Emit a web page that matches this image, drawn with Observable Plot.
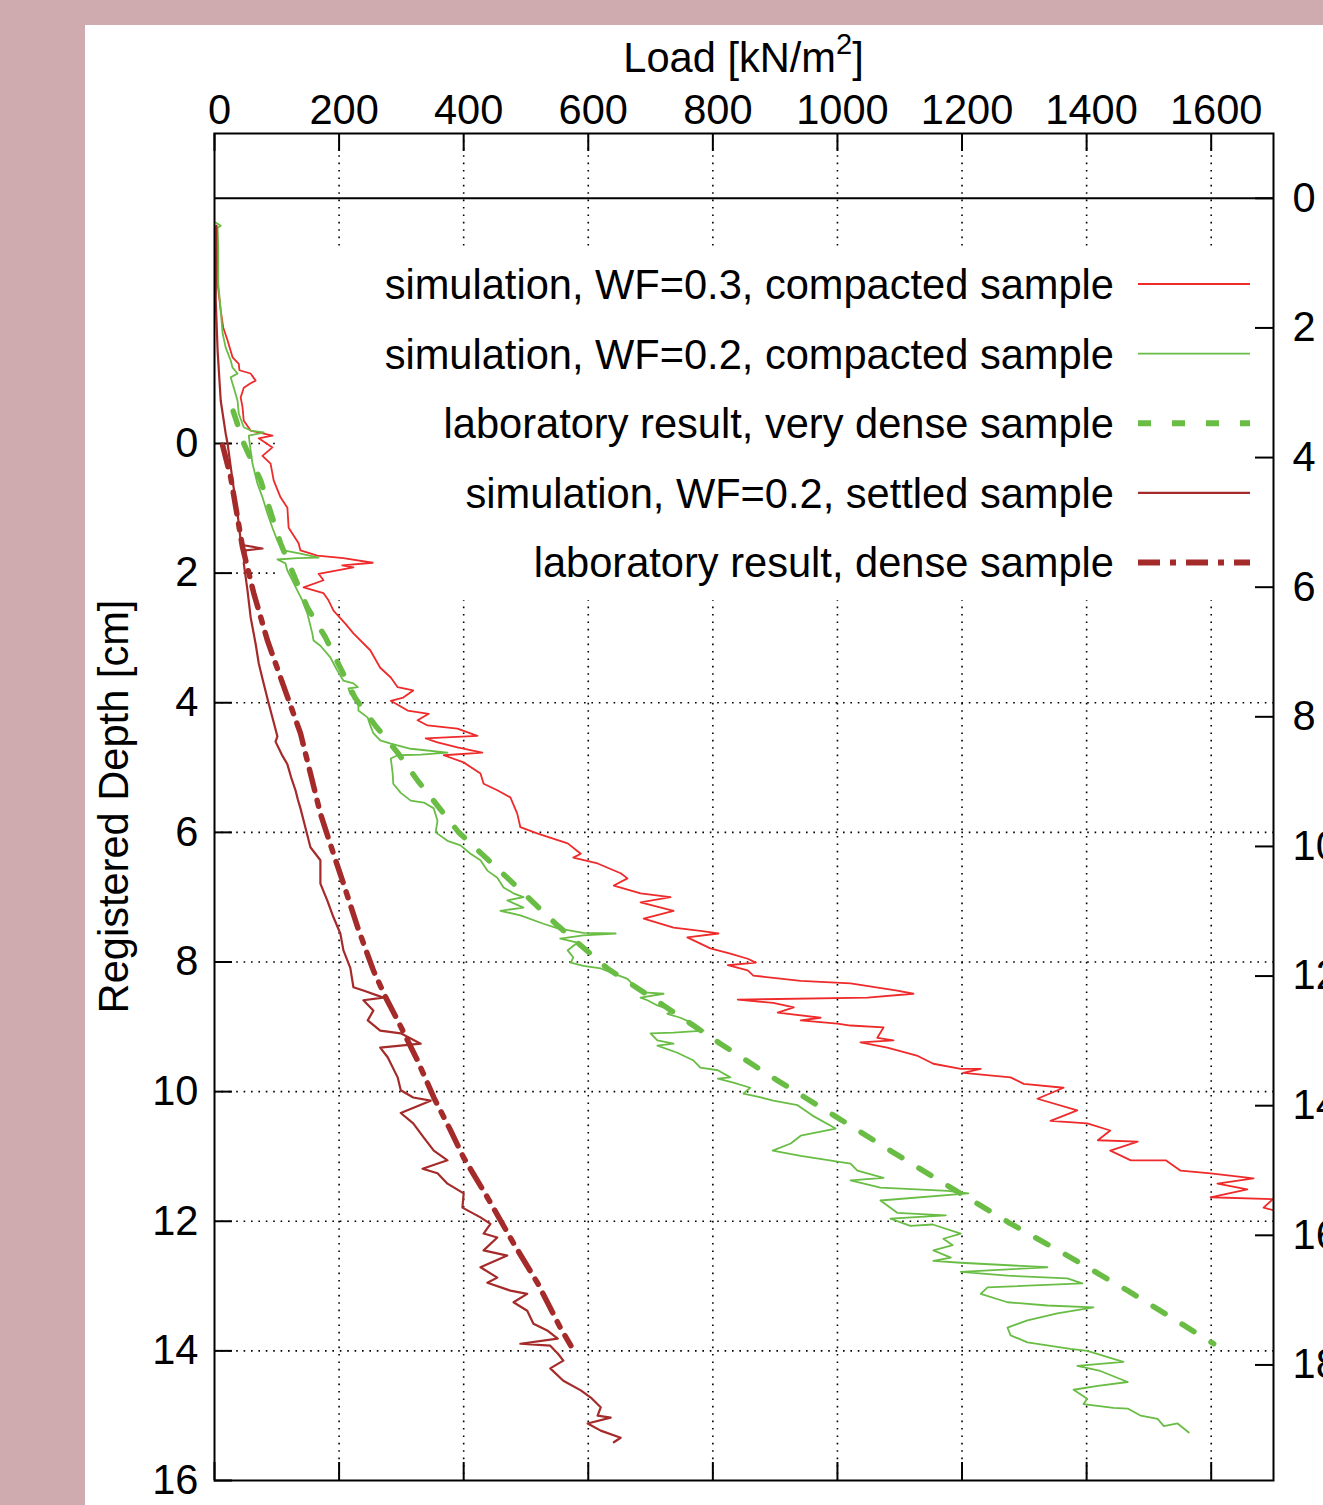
<!DOCTYPE html>
<html><head><meta charset="utf-8">
<script src="https://cdn.jsdelivr.net/npm/d3@7"></script>
<script src="https://cdn.jsdelivr.net/npm/@observablehq/plot@0.6"></script>
<style>
html,body{margin:0;padding:0;overflow:hidden;background:#cfaaaf;}
#panel{position:absolute;left:85px;top:25px;width:1238px;height:1480px;background:#fff;overflow:hidden;}
#panel svg{overflow:hidden;display:block;}
</style></head><body><div id="panel"></div>
<script>
// ---------- data (load kN/m2, registered depth cm) ----------
const xTicks = [0, 200, 400, 600, 800, 1000, 1200, 1400, 1600];
const yTicks = [0, 2, 4, 6, 8, 10, 12, 14, 16];
const rightTicks = [0, 2, 4, 6, 8, 10, 12, 14, 16, 18];
const rightOffset = -3.783; // right-axis 0 (surface) in registered-depth units
const xDomain = [0, 1700];
const yDomain = [-4.783, 16];

const legendLabels = [
  "simulation, WF=0.3, compacted sample",
  "simulation, WF=0.2, compacted sample",
  "laboratory result, very dense sample",
  "simulation, WF=0.2, settled sample",
  "laboratory result, dense sample"
];

const simWF03Compacted = [[3,-3.36],[5,-2.47],[10,-2.05],[14,-1.79],[21,-1.59],[29,-1.33],[39,-1.23],[40,-1.13],[58,-1.08],[66,-0.97],[58,-0.93],[47,-0.86],[42,-0.71],[45,-0.56],[47,-0.35],[58,-0.20],[93,-0.12],[71,-0.08],[93,0.06],[77,0.19],[90,0.31],[95,0.57],[106,0.83],[117,0.99],[119,1.30],[135,1.54],[138,1.65],[165,1.73],[207,1.77],[254,1.84],[205,1.88],[223,1.91],[167,2.01],[175,2.11],[143,2.22],[175,2.31],[183,2.42],[191,2.58],[210,2.78],[223,2.93],[250,3.19],[266,3.46],[283,3.61],[294,3.76],[319,3.81],[303,3.92],[283,3.97],[310,4.12],[344,4.17],[326,4.27],[342,4.35],[390,4.40],[422,4.51],[339,4.55],[358,4.61],[390,4.69],[430,4.77],[368,4.81],[400,4.92],[427,5.09],[432,5.25],[454,5.35],[475,5.46],[486,5.71],[491,5.92],[519,6.02],[567,6.17],[588,6.33],[576,6.39],[615,6.48],[652,6.63],[663,6.71],[641,6.82],[684,6.94],[732,7.00],[684,7.08],[737,7.21],[689,7.33],[737,7.47],[780,7.52],[809,7.56],[759,7.62],[796,7.79],[828,7.87],[856,7.95],[869,8.01],[824,8.05],[856,8.13],[865,8.21],[941,8.29],[1021,8.33],[1096,8.44],[1122,8.49],[1048,8.55],[840,8.58],[897,8.63],[930,8.70],[904,8.78],[973,8.86],[941,8.90],[1000,8.95],[1021,8.98],[1074,9.01],[1064,9.17],[1090,9.21],[1037,9.24],[1080,9.32],[1129,9.45],[1154,9.57],[1198,9.65],[1230,9.65],[1202,9.71],[1278,9.78],[1299,9.88],[1363,9.94],[1321,10.11],[1385,10.29],[1342,10.45],[1401,10.49],[1438,10.60],[1418,10.75],[1482,10.77],[1438,10.91],[1471,11.06],[1527,11.06],[1551,11.22],[1599,11.26],[1668,11.34],[1610,11.42],[1658,11.51],[1599,11.63],[1699,11.66],[1684,11.79],[1700,11.83]];

const simWF02Compacted = [[2,-3.41],[10,-3.36],[5,-3.33],[6,-3.02],[6,-2.47],[10,-2.05],[13,-1.70],[18,-1.48],[26,-1.28],[29,-1.17],[37,-1.08],[26,-1.02],[31,-0.86],[37,-0.66],[39,-0.46],[47,-0.25],[58,-0.20],[79,-0.17],[55,-0.12],[58,0.11],[61,0.31],[69,0.62],[77,0.83],[85,1.08],[93,1.30],[101,1.50],[111,1.65],[138,1.70],[167,1.76],[133,1.77],[101,1.79],[114,1.85],[117,1.96],[125,2.11],[133,2.27],[141,2.42],[149,2.62],[157,2.93],[159,3.04],[170,3.12],[186,3.30],[191,3.39],[197,3.50],[207,3.66],[223,3.70],[230,3.76],[215,3.78],[218,3.86],[231,4.01],[231,4.12],[246,4.23],[250,4.35],[255,4.47],[266,4.58],[283,4.63],[315,4.71],[374,4.77],[331,4.80],[294,4.81],[283,4.86],[286,5.09],[287,5.25],[299,5.39],[315,5.51],[336,5.54],[352,5.63],[358,5.82],[355,6.00],[374,6.13],[395,6.20],[411,6.33],[427,6.43],[438,6.59],[454,6.70],[464,6.85],[480,6.94],[496,7.00],[470,7.05],[496,7.16],[459,7.21],[491,7.28],[528,7.41],[551,7.48],[592,7.55],[644,7.56],[592,7.59],[555,7.64],[583,7.70],[567,7.82],[576,7.93],[572,8.01],[592,8.06],[620,8.10],[641,8.18],[663,8.26],[673,8.36],[689,8.47],[721,8.49],[684,8.55],[695,8.59],[711,8.67],[737,8.75],[727,8.80],[748,8.86],[769,8.95],[785,9.06],[737,9.09],[700,9.10],[711,9.21],[737,9.26],[711,9.29],[743,9.40],[769,9.52],[780,9.63],[808,9.67],[828,9.78],[808,9.80],[833,9.86],[860,9.94],[849,10.03],[877,10.09],[897,10.14],[936,10.21],[960,10.37],[997,10.57],[941,10.68],[925,10.80],[896,10.91],[941,10.99],[1021,11.11],[1032,11.22],[1074,11.33],[1021,11.37],[1069,11.48],[1177,11.53],[1210,11.57],[1069,11.68],[1096,11.87],[1174,11.91],[1085,11.96],[1117,12.07],[1153,12.05],[1198,12.19],[1170,12.27],[1185,12.37],[1154,12.45],[1182,12.56],[1154,12.61],[1198,12.64],[1337,12.71],[1198,12.78],[1273,12.84],[1369,12.88],[1393,12.96],[1241,13.02],[1230,13.12],[1273,13.25],[1337,13.30],[1411,13.33],[1353,13.42],[1305,13.53],[1273,13.64],[1278,13.76],[1305,13.87],[1374,13.97],[1401,14.00],[1459,14.17],[1385,14.23],[1422,14.31],[1466,14.48],[1418,14.54],[1379,14.60],[1401,14.74],[1395,14.82],[1443,14.88],[1466,14.89],[1487,15.00],[1514,15.05],[1524,15.16],[1546,15.12],[1564,15.26]];

const labVeryDense = [[30,-0.5],[47,0],[74,0.57],[106,1.54],[149,2.53],[178,2.99],[202,3.46],[226,3.93],[258,4.35],[294,4.77],[326,5.20],[392,6.00],[470,6.70],[551,7.44],[631,8.10],[721,8.67],[812,9.26],[904,9.83],[1000,10.40],[1090,10.94],[1182,11.48],[1275,12.02],[1369,12.53],[1466,13.07],[1604,13.89]];

const simWF02Settled = [[3,-3.36],[2,-2.21],[5,-1.43],[10,-0.66],[18,-0.15],[21,0.00],[29,0.57],[37,1.08],[42,1.50],[47,1.57],[77,1.62],[50,1.65],[47,1.85],[53,2.27],[58,2.68],[66,3.09],[71,3.39],[77,3.63],[87,4.01],[95,4.30],[101,4.52],[98,4.60],[108,4.80],[117,4.95],[123,5.15],[130,5.35],[134,5.50],[138,5.63],[146,5.93],[154,6.23],[162,6.33],[170,6.43],[170,6.79],[181,7.05],[191,7.31],[202,7.56],[207,7.82],[218,8.09],[223,8.39],[239,8.44],[271,8.55],[239,8.59],[255,8.75],[246,8.90],[266,9.06],[299,9.10],[331,9.26],[266,9.32],[278,9.47],[294,9.78],[299,9.98],[319,10.09],[347,10.14],[299,10.33],[319,10.49],[336,10.71],[352,10.91],[374,11.06],[334,11.19],[358,11.26],[374,11.42],[400,11.57],[398,11.79],[427,11.94],[443,12.04],[432,12.19],[454,12.25],[432,12.45],[470,12.53],[427,12.71],[454,12.87],[438,12.95],[475,13.07],[502,13.12],[480,13.25],[502,13.38],[512,13.58],[535,13.69],[551,13.81],[491,13.89],[539,13.92],[551,14.04],[560,14.15],[539,14.27],[560,14.46],[588,14.61],[604,14.72],[620,14.87],[615,15.00],[636,15.03],[599,15.12],[620,15.23],[652,15.34],[641,15.41]];

const labDense = [[13,0.03],[26,0.52],[45,1.60],[63,2.31],[85,3.04],[106,3.61],[138,4.47],[154,5.09],[170,5.71],[191,6.33],[207,6.79],[230,7.47],[255,8.13],[275,8.55],[294,8.90],[310,9.21],[326,9.52],[352,10.09],[379,10.60],[400,11.02],[438,11.63],[480,12.34],[519,12.96],[555,13.64],[572,13.92]];

// ---------- styles ----------
const RED = "#ee2a2a", GREEN = "#69bd45", BROWN = "#a52a2a";
const seriesStyle = [
  {data: simWF03Compacted, stroke: RED, width: 1.8, dash: null},
  {data: simWF02Compacted, stroke: GREEN, width: 1.8, dash: null},
  {data: labVeryDense, stroke: GREEN, width: 5.5, dash: "14,20"},
  {data: simWF02Settled, stroke: BROWN, width: 2.2, dash: null},
  {data: labDense, stroke: BROWN, width: 5.5, dash: "22,10,6,10"}
];

const W = 1238, H = 1480, mL = 129, mT = 108, mR = 50, mB = 25;
const FONT = "'Liberation Sans', Arial, Helvetica, sans-serif";
const FS = 41.6;
const tickPx = 18;
const xPerPx = (xDomain[1] - xDomain[0]) / (W - mL - mR);
const yPerPx = (yDomain[1] - yDomain[0]) / (H - mT - mB);
const tX = tickPx * xPerPx, tY = tickPx * yPerPx;

function legendBox(index, scales, values, dims) {
  const g = d3.create("svg:g");
  g.append("rect")
    .attr("x", dims.marginLeft + 63).attr("y", dims.marginTop + 117)
    .attr("width", dims.width - dims.marginRight - dims.marginLeft - 63)
    .attr("height", 350).attr("fill", "white");
  return g.node();
}

function legendEntries(index, scales, values, dims) {
  const g = d3.create("svg:g").attr("font-family", FONT).attr("font-size", FS);
  const xr = dims.width - dims.marginRight;
  legendLabels.forEach((lab, i) => {
    const y = dims.marginTop + 151 + i * 69.6;
    const s = seriesStyle[i];
    g.append("text").attr("x", xr - 159).attr("y", y).attr("dy", "0.36em")
      .attr("text-anchor", "end").attr("fill", "black").text(lab);
    const ln = g.append("line").attr("x1", xr - 135).attr("x2", xr - 23)
      .attr("y1", y).attr("y2", y).attr("stroke", s.stroke)
      .attr("stroke-width", s.dash ? 6 : s.width);
    if (s.dash) ln.attr("stroke-dasharray", i === 2 ? "13,21" : "22,10,6,10");
  });
  return g.node();
}

function titles(index, scales, values, dims) {
  const g = d3.create("svg:g").attr("font-family", FONT).attr("fill", "black");
  const cx = (dims.marginLeft + dims.width - dims.marginRight) / 2;
  const t = g.append("text").attr("x", cx).attr("y", 47).attr("text-anchor", "middle").attr("font-size", FS);
  t.append("tspan").text("Load [kN/m");
  t.append("tspan").attr("font-size", 29).attr("dy", -18).text("2");
  t.append("tspan").attr("dy", 18).text("]");
  const cy = (dims.marginTop + dims.height - dims.marginBottom) / 2;
  g.append("text").attr("transform", `translate(43,${cy}) rotate(-90)`)
    .attr("text-anchor", "middle").attr("font-size", FS).text("Registered Depth [cm]");
  return g.node();
}

const fmt = d => String(d);

const chart = Plot.plot({
  width: W, height: H,
  marginLeft: mL, marginTop: mT, marginRight: mR, marginBottom: mB,
  style: {fontFamily: FONT, color: "black", background: "white", overflow: "hidden"},
  x: {domain: xDomain},
  y: {domain: yDomain, reverse: true},
  marks: [
    Plot.gridX(xTicks.filter(d => d > xDomain[0] && d < xDomain[1]), {stroke: "black", strokeOpacity: 1, strokeWidth: 1.6, strokeDasharray: "1.6,5.8"}),
    Plot.gridY(yTicks.filter(d => d < yDomain[1]), {stroke: "black", strokeOpacity: 1, strokeWidth: 1.6, strokeDasharray: "1.6,5.8"}),
    legendBox,
    Plot.ruleX(xTicks, {x: d => d, y1: yDomain[0], y2: yDomain[0] + tY, stroke: "black", strokeWidth: 2}),
    Plot.ruleX(xTicks, {x: d => d, y1: yDomain[1], y2: yDomain[1] - tY, stroke: "black", strokeWidth: 2}),
    Plot.ruleY(yTicks, {y: d => d, x1: xDomain[0], x2: xDomain[0] + tX, stroke: "black", strokeWidth: 2}),
    Plot.ruleY(rightTicks.map(r => r + rightOffset), {y: d => d, x1: xDomain[1] - tX, x2: xDomain[1], stroke: "black", strokeWidth: 2}),
    Plot.ruleY([rightOffset], {stroke: "black", strokeWidth: 2}),
    ...seriesStyle.map(s => Plot.line(s.data, {x: d => d[0], y: d => d[1], stroke: s.stroke, strokeWidth: s.width, strokeDasharray: s.dash || undefined, strokeLinejoin: "round", clip: "frame"})),
    Plot.frame({stroke: "black", strokeWidth: 2}),
    Plot.axisX(xTicks, {anchor: "top", tickSize: 0, tickPadding: 10, dx: 5, fontSize: FS, label: null, tickFormat: fmt}),
    Plot.axisY(yTicks, {anchor: "left", tickSize: 0, tickPadding: 16, fontSize: FS, label: null, tickFormat: fmt}),
    Plot.axisY(rightTicks.map(r => r + rightOffset), {anchor: "right", tickSize: 0, tickPadding: 19, fontSize: FS, label: null, tickFormat: d => String(Math.round(d - rightOffset))}),
    legendEntries,
    titles
  ]
});
document.getElementById("panel").appendChild(chart);
</script></body></html>
